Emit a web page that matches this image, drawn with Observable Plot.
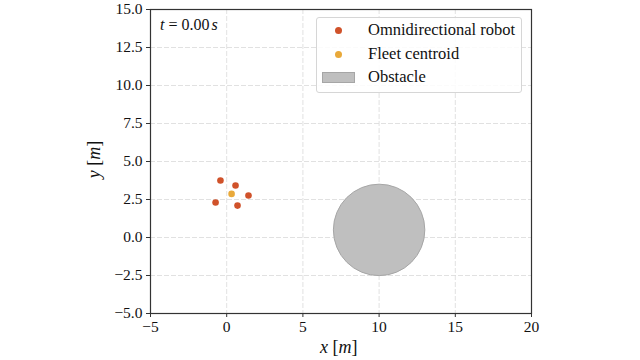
<!DOCTYPE html>
<html>
<head>
<meta charset="utf-8">
<script src="https://cdn.jsdelivr.net/npm/d3@7"></script>
<script src="https://cdn.jsdelivr.net/npm/@observablehq/plot@0.6"></script>
<style>
  body { margin: 0; background: #fff; }
  #wrap { position: relative; width: 640px; height: 360px; font-family: "Liberation Serif", "DejaVu Serif", serif; color: #111; }
  .ov { position: absolute; white-space: nowrap; }
  .legend { position: absolute; left: 316px; top: 17px; width: 204px; height: 74px; border: 1px solid #d6d6d6; border-radius: 3px; background: rgba(255,255,255,0.85); font-size: 16.5px; }
  .row { position: absolute; left: 0; height: 20px; }
  .row .lbl { position: absolute; left: 51px; top: 0; line-height: 20px; }
  .mk { position: absolute; border-radius: 50%; }
</style>
</head>
<body>
<div id="wrap"></div>
<script>
// ---- data ----
const robotX = [-0.41, 0.58, 1.43, -0.73, 0.71];
const robotY = [3.75, 3.42, 2.76, 2.30, 2.10];
const centroidX = [0.32];
const centroidY = [2.87];
const obstacleX = [10];
const obstacleY = [0.5];
const obstacleR = [3.0];
const xTicks = [-5, 0, 5, 10, 15, 20];
const yTicks = [-5, -2.5, 0, 2.5, 5, 7.5, 10, 12.5, 15];
const legendLabels = ["Omnidirectional robot", "Fleet centroid", "Obstacle"];
const timeLabel = "0.00";

const robotColor = "#d0522a";
const centroidColor = "#e9a93a";
const obstacleFill = "#bfbfbf";
const obstacleStroke = "#a6a6a6";

const robots = robotX.map((x, i) => ({x, y: robotY[i]}));
const centroid = centroidX.map((x, i) => ({x, y: centroidY[i]}));
const obstacles = obstacleX.map((x, i) => ({x, y: obstacleY[i], r: obstacleR[i]}));

const plot = Plot.plot({
  width: 640,
  height: 360,
  marginLeft: 150,
  marginRight: 109,
  marginTop: 9,
  marginBottom: 47,
  style: { fontFamily: "'Liberation Serif', 'DejaVu Serif', serif", fontSize: "15.5px", color: "#111", background: "transparent" },
  x: { domain: [-5, 20], ticks: xTicks },
  y: { domain: [-5, 15], ticks: yTicks },
  marks: [
    Plot.gridX(xTicks, { stroke: "#d9d9d9", strokeOpacity: 1, strokeDasharray: "5,2", strokeWidth: 0.8 }),
    Plot.gridY(yTicks, { stroke: "#d9d9d9", strokeOpacity: 1, strokeDasharray: "5,2", strokeWidth: 0.8 }),
    Plot.dot(obstacles, {
      x: "x", y: "y", fill: obstacleFill, stroke: obstacleStroke, strokeWidth: 1,
      render(index, scales, values, dims, context, next) {
        const g = next(index, scales, values, dims, context);
        d3.select(g).selectAll("circle").each(function(_, j) {
          const d = obstacles[index[j]];
          d3.select(this).attr("r", scales.x(d.x + d.r) - scales.x(d.x));
        });
        return g;
      }
    }),
    Plot.dot(robots, { x: "x", y: "y", r: 3.3, fill: robotColor }),
    Plot.dot(centroid, { x: "x", y: "y", r: 3.3, fill: centroidColor }),
    Plot.axisX(xTicks, { tickSize: 4, tickPadding: 3, label: null, stroke: "#333", fill: "#111", fontSize: 15.5 }),
    Plot.axisY(yTicks, { tickSize: 4, tickPadding: 4, label: null, stroke: "#333", fill: "#111", fontSize: 15.5, tickFormat: d3.format(".1f") }),
    Plot.frame({ stroke: "#333", strokeWidth: 1.2 })
  ]
});

const wrap = document.getElementById("wrap");
plot.style.position = "absolute";
plot.style.left = "0px";
plot.style.top = "0px";
wrap.appendChild(plot);

function ov(html, css) {
  const d = document.createElement("div");
  d.className = "ov";
  d.innerHTML = html;
  Object.assign(d.style, css);
  wrap.appendChild(d);
  return d;
}
// time annotation
ov(`<i>t</i> = ${timeLabel}<i style="margin-left:2px">s</i>`, { left: "160px", top: "16px", fontSize: "16px" });
// axis labels
ov(`<i>x</i> [<i>m</i>]`, { left: "320px", top: "337px", fontSize: "18px" });
ov(`<i>y</i> [<i>m</i>]`, { left: "76px", top: "149px", fontSize: "18px", transform: "rotate(-90deg)", transformOrigin: "center" });

// legend
const lg = document.createElement("div");
lg.className = "legend";
wrap.appendChild(lg);
const colors = [robotColor, centroidColor];
legendLabels.forEach((t, i) => {
  const row = document.createElement("div");
  row.className = "row";
  row.style.top = (2 + i * 23.5) + "px";
  row.style.width = "100%";
  if (i < 2) {
    const m = document.createElement("div");
    m.className = "mk";
    Object.assign(m.style, { left: "18px", top: "7px", width: "7px", height: "7px", background: colors[i] });
    row.appendChild(m);
  } else {
    const p = document.createElement("div");
    Object.assign(p.style, { position: "absolute", left: "5px", top: "5px", width: "33px", height: "11px", background: obstacleFill, border: "1px solid " + obstacleStroke, boxSizing: "border-box" });
    row.appendChild(p);
  }
  const l = document.createElement("div");
  l.className = "lbl";
  l.textContent = t;
  row.appendChild(l);
  lg.appendChild(row);
});
</script>
</body>
</html>
